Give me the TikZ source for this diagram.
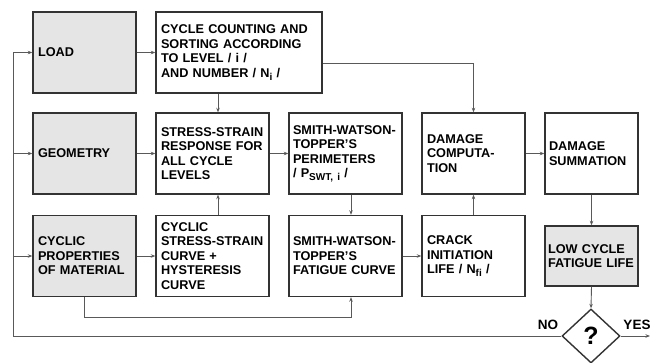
\documentclass[tikz,border=0pt]{standalone}
\usepackage{fontspec}
\setmainfont{Liberation Sans}
\usetikzlibrary{shapes.geometric,arrows.meta}
\newcommand\lowsub[1]{\raisebox{-0.4ex}{\fontsize{10}{10}\selectfont #1}}
\begin{document}
\begin{tikzpicture}[x=1pt,y=-1pt,
  blk/.style={draw=black!80, line width=1.4pt, minimum height=81pt, inner xsep=5pt, inner ysep=0pt, align=left,
    font=\fontsize{12.7}{14.5}\selectfont\bfseries},
  gry/.style={blk, fill=black!10},
  arr/.style={draw=black!65, line width=0.9pt, -{Stealth[length=4.5pt,width=3.5pt]}},
  lbl/.style={font=\fontsize{13.5}{14}\selectfont\bfseries, inner sep=0pt}]
\useasboundingbox (0,0) rectangle (662,362);
% row 1
\node[gry, text width=93pt] (load) at (84.5,52.5) {LOAD};
\node[blk, text width=156pt] (count) at (239,52.5) {CYCLE COUNTING AND\\SORTING ACCORDING\\TO LEVEL / i /\\AND NUMBER / N\lowsub{i} /};
% row 2
\node[gry, text width=93pt] (geom) at (84.5,153.5) {GEOMETRY};
\node[blk, text width=103pt] (ss) at (212.5,153.5) {STRESS-STRAIN\\RESPONSE FOR\\ALL CYCLE\\LEVELS};
\node[blk, text width=105pt, inner xsep=4pt] (swtp) at (345.5,153.5) {SMITH-WATSON-\\TOPPER'S\\PERIMETERS\\/ P\lowsub{SWT, i} /};
\node[blk, text width=93pt] (dc) at (473.5,153.5) {DAMAGE\\COMPUTA-\\TION};
\node[blk, text width=85pt, inner xsep=4pt] (ds) at (591.5,153.5) {DAMAGE\\SUMMATION};
% row 3
\node[gry, text width=93pt] (cyc) at (84.5,256) {CYCLIC\\PROPERTIES\\OF MATERIAL};
\node[blk, text width=103pt] (css) at (212.5,256) {CYCLIC\\STRESS-STRAIN\\CURVE +\\HYSTERESIS\\CURVE};
\node[blk, text width=105pt, inner xsep=4pt] (swtf) at (345.5,256) {SMITH-WATSON-\\TOPPER'S\\FATIGUE CURVE};
\node[blk, text width=93pt] (crack) at (473.5,256) {CRACK\\INITIATION\\LIFE / N\lowsub{fi} /};
\node[gry, text width=87pt, inner xsep=3pt, minimum height=60pt] (lcf) at (591.5,256) {LOW CYCLE\\FATIGUE LIFE};
% decision
\node[draw=black!80, line width=1.4pt, diamond, minimum width=58pt, minimum height=54pt, inner sep=0pt,
  font=\fontsize{25}{25}\selectfont\bfseries] (dia) at (591,336) {?};
\node[lbl] (no) at (548,325) {NO};
\node[lbl] (yes) at (637,325) {YES};
% helper coordinates
\coordinate (fb) at (13,0);
\coordinate (c1) at (218,0);
\coordinate (c3) at (0,317);
\coordinate (c4) at (351,0);
\coordinate (yend) at (650,336);
% connectors
\draw[arr] (load.east) -- (count.west);
\draw[arr] (geom.east) -- (ss.west);
\draw[arr] (cyc.east) -- (css.west);
\draw[arr] (count.south -| c1) -- (ss.north -| c1);
\draw[arr] (css.north -| c1) -- (ss.south -| c1);
\draw[arr] (ss.east) -- (swtp.west);
\draw[arr] (swtp.south -| c4) -- (swtf.north -| c4);
\draw[arr] (swtf.east) -- (crack.west);
\draw[arr] (crack.north) -- (dc.south);
\draw[arr] ([yshift=-10.5pt]count.east) -| (dc.north);
\draw[arr] (dc.east) -- (ds.west);
\draw[arr] (ds.south) -- (lcf.north);
\draw[arr] (lcf.south) -- (dia.north);
\draw[arr] (cyc.south) -- (cyc.south |- c3) -| (swtf.south -| c4);
\draw[arr] (dia.west) -- (dia.west -| fb) |- (load.west);
\draw[arr] (geom.west -| fb) -- (geom.west);
\draw[arr] (cyc.west -| fb) -- (cyc.west);
\draw[arr] (dia.east) -- (yend);
\end{tikzpicture}
\end{document}
